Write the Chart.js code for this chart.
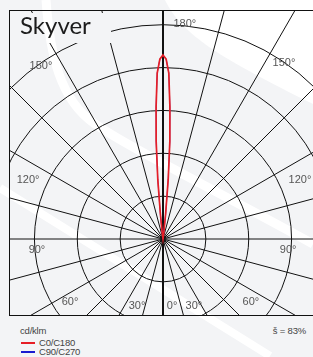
<!DOCTYPE html>
<html>
<head>
<meta charset="utf-8">
<script src="https://cdn.jsdelivr.net/npm/chart.js@4.4.1/dist/chart.umd.min.js"></script>
<style>
  html, body { margin:0; padding:0; width:313px; height:357px; overflow:hidden; background:#f3f4f6; }
  #bg { position:absolute; left:0; top:0; }
  #frame { position:absolute; left:9px; top:10px; width:330px; height:306px; box-sizing:border-box; border:1px solid #111; overflow:hidden; }
  #c { position:absolute; left:-147px; top:-72px; }
  #title { position:absolute; left:9px; top:13px; width:91px; height:30px; padding-left:11px; font:400 24px/24px Lato, "Open Sans", sans-serif; color:#1c1c1c; }
  .ft { position:absolute; font:9.5px/9.5px "Liberation Sans", Arial, sans-serif; color:#444; letter-spacing:-0.2px; white-space:nowrap; }
  .lg { position:absolute; left:21px; width:14px; height:1.5px; }
</style>
</head>
<body>
<svg id="bg" width="313" height="357" xmlns="http://www.w3.org/2000/svg">
  <rect x="0" y="0" width="313" height="357" fill="#f3f4f6"/>
  <path d="M165,0 C182,35 220,58 313,104 L313,0 Z" fill="#ffffff"/>
  <path d="M46,0 C50,55 60,100 95,124 C130,148 200,182 313,244" stroke="#ffffff" stroke-width="9" fill="none"/>
  <path d="M0,188 L270,356" stroke="#ffffff" stroke-width="8" fill="none"/>
</svg>
<div id="frame"><canvas id="c" width="600" height="600"></canvas></div>
<div id="title">Skyver</div>
<div class="ft" style="left:20px;top:325.5px;">cd/klm</div>
<div class="ft" style="right:7px;top:325.5px;">š = 83%</div>
<div id="legend"></div>
<script>
// ---- data ----
const gammaDeg = [180, 179, 178, 177, 176, 175, 174, 173, 172, 171];
const c0c180   = [4000, 3910, 3610, 2870, 2130, 1300, 540, 170, 40, 0];
const c90c270  = [4000, 3910, 3610, 2870, 2130, 1300, 540, 170, 40, 0];
const ringStep = 1000;          // cd/klm between rings
const ringCount = 5;            // visible rings
const spokeStep = 15;           // degrees between spokes
const seriesNames = ['C0/C180', 'C90/C270'];
const seriesColors = ['#e61e26', '#1a1ad0'];
const unitLabel = 'cd/klm';
// angle tick labels: text, direction (deg clockwise from top), distance (cd/klm units)
const angleTickText = ['180°','150°','120°','90°','60°','30°','0°','30°','60°','90°','120°','150°'];
const angleTickDir  = [5.8, 34.5, 66.7, 95, 125.6, 155.2, 172.3, 201.2, 235.9, 265, 293.6, 324.8];
const angleTickDist = [4700, 4640, 3240, 2730, 2350, 1600, 1470, 1560, 2440, 2750, 3200, 4600];

// ---- build radar table (index = degrees clockwise from top; top = gamma 180) ----
const N = 360;
const labels = Array.from({length: N}, (_, i) => i);
function planeValues(vals) {
  const m = new Map(gammaDeg.map((g, k) => [g, vals[k]]));
  return labels.map(i => {
    const g = i <= 180 ? 180 - i : i - 180;
    return m.has(g) ? m.get(g) : 0;
  });
}

const titleEl = document.getElementById('title');
const canvas = document.getElementById('c');

const framePlugin = {
  id: 'framePlugin',
  beforeDraw(chart) {
    const c = chart.ctx;
    const cr = canvas.getBoundingClientRect();
    const tr = titleEl.getBoundingClientRect();
    c.save();
    c.beginPath();
    c.rect(0, 0, chart.width, chart.height);
    c.rect(tr.left - cr.left, tr.top - cr.top, tr.width, tr.height);
    c.clip('evenodd');
  },
  afterDraw(chart) {
    const c = chart.ctx;
    c.restore();
    const s = chart.scales.r;
    c.save();
    c.font = '11px "Liberation Sans", Arial, sans-serif';
    c.fillStyle = '#555';
    c.textAlign = 'center';
    c.textBaseline = 'middle';
    angleTickText.forEach((t, k) => {
      const p = s.getPointPosition(angleTickDir[k] * N / 360, s.getDistanceFromCenterForValue(angleTickDist[k]));
      c.fillText(t, p.x, p.y);
    });
    c.restore();
  }
};

const chart = new Chart(canvas, {
  type: 'radar',
  data: {
    labels: labels,
    datasets: [
      { label: seriesNames[0], data: planeValues(c0c180), borderColor: seriesColors[0], borderWidth: 1.7, pointRadius: 0, fill: false, tension: 0, order: 0 },
      { label: seriesNames[1], data: planeValues(c90c270), borderColor: seriesColors[1], borderWidth: 0.8, pointRadius: 0, fill: false, tension: 0, order: 1 }
    ]
  },
  options: {
    responsive: false,
    animation: false,
    devicePixelRatio: 1,
    layout: { padding: 0 },
    plugins: { legend: { display: false }, tooltip: { enabled: false }, title: { display: false } },
    scales: {
      r: {
        min: 0,
        max: 6520,
        startAngle: 0,
        ticks: { display: false, stepSize: ringStep },
        pointLabels: { display: false },
        grid: {
          circular: true,
          color: '#111',
          lineWidth: ctx => (ctx.tick && ctx.tick.value > 0 && ctx.tick.value <= ringStep * ringCount) ? 1 : 0
        },
        angleLines: {
          color: '#111',
          lineWidth: ctx => (ctx.index % spokeStep !== 0) ? 0 : (ctx.index % 180 === 0 ? 2 : 1)
        }
      }
    }
  },
  plugins: [framePlugin]
});

// ---- legend from datasets ----
const lg = document.getElementById('legend');
const rowTops = [338, 347];
chart.data.datasets.forEach((ds, k) => {
  const line = document.createElement('div');
  line.className = 'lg';
  line.style.top = (rowTops[k] + 4) + 'px';
  line.style.background = ds.borderColor;
  lg.appendChild(line);
  const txt = document.createElement('div');
  txt.className = 'ft';
  txt.style.left = '39px';
  txt.style.top = rowTops[k] + 'px';
  txt.textContent = ds.label;
  lg.appendChild(txt);
});
</script>
</body>
</html>
